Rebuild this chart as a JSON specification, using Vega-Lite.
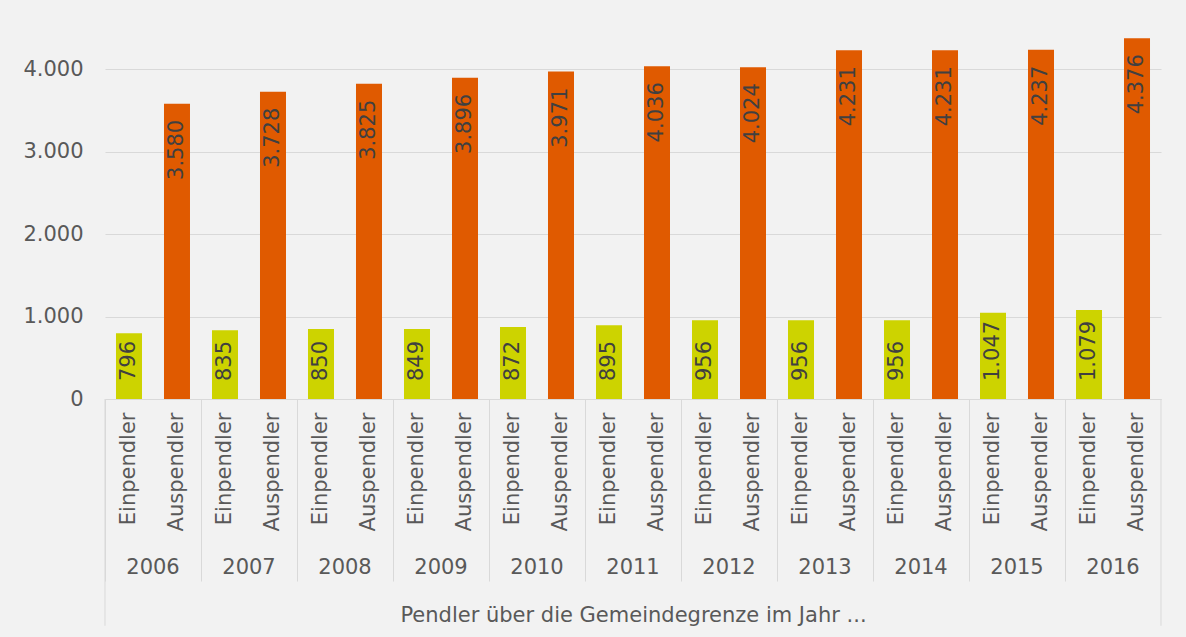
{
  "$schema": "https://vega.github.io/schema/vega-lite/v6.json",
  "width": 1056,
  "height": 371,
  "autosize": {"type": "none"},
  "padding": {"left": 105, "top": 28, "right": 25, "bottom": 238},
  "background": "#f2f2f2",
  "config": {
    "locale": {"number": {"decimal": ",", "thousands": ".", "grouping": [3], "currency": ["", " €"]}},
    "view": {"stroke": null},
    "font": "DejaVu Sans",
    "axis": {"labelFont": "DejaVu Sans", "titleFont": "DejaVu Sans"},
    "text": {"font": "DejaVu Sans"}
  },
  "datasets": {
    "pendler": [
      {"year": "2006", "type": "Einpendler", "key": "2006|Einpendler", "value": 796},
      {"year": "2006", "type": "Auspendler", "key": "2006|Auspendler", "value": 3580},
      {"year": "2007", "type": "Einpendler", "key": "2007|Einpendler", "value": 835},
      {"year": "2007", "type": "Auspendler", "key": "2007|Auspendler", "value": 3728},
      {"year": "2008", "type": "Einpendler", "key": "2008|Einpendler", "value": 850},
      {"year": "2008", "type": "Auspendler", "key": "2008|Auspendler", "value": 3825},
      {"year": "2009", "type": "Einpendler", "key": "2009|Einpendler", "value": 849},
      {"year": "2009", "type": "Auspendler", "key": "2009|Auspendler", "value": 3896},
      {"year": "2010", "type": "Einpendler", "key": "2010|Einpendler", "value": 872},
      {"year": "2010", "type": "Auspendler", "key": "2010|Auspendler", "value": 3971},
      {"year": "2011", "type": "Einpendler", "key": "2011|Einpendler", "value": 895},
      {"year": "2011", "type": "Auspendler", "key": "2011|Auspendler", "value": 4036},
      {"year": "2012", "type": "Einpendler", "key": "2012|Einpendler", "value": 956},
      {"year": "2012", "type": "Auspendler", "key": "2012|Auspendler", "value": 4024},
      {"year": "2013", "type": "Einpendler", "key": "2013|Einpendler", "value": 956},
      {"year": "2013", "type": "Auspendler", "key": "2013|Auspendler", "value": 4231},
      {"year": "2014", "type": "Einpendler", "key": "2014|Einpendler", "value": 956},
      {"year": "2014", "type": "Auspendler", "key": "2014|Auspendler", "value": 4231},
      {"year": "2015", "type": "Einpendler", "key": "2015|Einpendler", "value": 1047},
      {"year": "2015", "type": "Auspendler", "key": "2015|Auspendler", "value": 4237},
      {"year": "2016", "type": "Einpendler", "key": "2016|Einpendler", "value": 1079},
      {"year": "2016", "type": "Auspendler", "key": "2016|Auspendler", "value": 4376}
    ],
    "edges": [
      {"year": "2006", "from": 0, "to": -2750},
      {"year": "2016", "from": 0, "to": -2750}
    ]
  },
  "layer": [
    {
      "data": {"name": "pendler"},
      "layer": [
        {
          "mark": {"type": "bar"},
          "encoding": {
            "x": {
              "field": "key", "type": "nominal", "sort": null,
              "scale": {"type": "band", "paddingInner": 0.4583, "paddingOuter": 0.229},
              "axis": {
                "title": null,
                "labelExpr": "split(datum.value, '|')[1]",
                "labelAngle": -90,
                "labelAlign": "right",
                "labelBaseline": "middle",
                "labelPadding": 13,
                "labelFontSize": 21,
                "labelColor": "#595959",
                "labelBound": false,
                "labelOverlap": false,
                "ticks": false,
                "domain": true,
                "domainColor": "#d9d9d9",
                "domainWidth": 1
              }
            },
            "y": {
              "field": "value", "type": "quantitative",
              "scale": {"domain": [0, 4500], "nice": false},
              "axis": {
                "title": null,
                "values": [0, 1000, 2000, 3000, 4000],
                "format": ",d",
                "domain": false,
                "ticks": false,
                "labelPadding": 22,
                "labelFontSize": 21,
                "labelColor": "#595959",
                "gridColor": "#d9d9d9",
                "gridWidth": 1
              }
            },
            "color": {
              "field": "type", "type": "nominal",
              "scale": {"domain": ["Einpendler", "Auspendler"], "range": ["#cdd300", "#e05a00"]},
              "legend": null
            }
          }
        },
        {
          "transform": [{"filter": "datum.type === 'Einpendler'"}],
          "mark": {"type": "text", "angle": 270, "align": "left", "baseline": "middle", "dx": 18, "fontSize": 21, "color": "#404040"},
          "encoding": {
            "x": {"field": "key", "type": "nominal", "sort": null},
            "y": {"datum": 0, "type": "quantitative", "scale": {"domain": [0, 4500], "nice": false}},
            "text": {"field": "value", "type": "quantitative", "format": ",d"}
          }
        },
        {
          "transform": [{"filter": "datum.type === 'Auspendler'"}],
          "mark": {"type": "text", "angle": 270, "align": "right", "baseline": "middle", "dx": -16, "fontSize": 21, "color": "#404040"},
          "encoding": {
            "x": {"field": "key", "type": "nominal", "sort": null},
            "y": {"field": "value", "type": "quantitative", "scale": {"domain": [0, 4500], "nice": false}},
            "text": {"field": "value", "type": "quantitative", "format": ",d"}
          }
        }
      ]
    },
    {
      "data": {"name": "edges"},
      "layer": [
        {
          "transform": [{"filter": "datum.year === '2006'"}],
          "mark": {"type": "rule", "color": "#d9d9d9", "strokeWidth": 1},
          "encoding": {
            "x": {
              "field": "year", "type": "ordinal", "bandPosition": 0,
              "scale": {"type": "band", "domain": ["2006", "2007", "2008", "2009", "2010", "2011", "2012", "2013", "2014", "2015", "2016"], "paddingInner": 0, "paddingOuter": 0},
              "axis": {
                "orient": "bottom",
                "domain": false,
                "ticks": true,
                "bandPosition": 0,
                "tickSize": 182,
                "tickColor": "#d9d9d9",
                "tickWidth": 1,
                "labelAngle": 0,
                "labelAlign": "center",
                "labelBaseline": "top",
                "labelPadding": -25,
                "labelFontSize": 21,
                "labelColor": "#595959",
                "title": "Pendler über die Gemeindegrenze im Jahr ...",
                "titleFontSize": 21,
                "titleFontWeight": "normal",
                "titleColor": "#595959",
                "titleY": 216,
                "titleBaseline": "middle"
              }
            },
            "y": {"field": "from", "type": "quantitative", "scale": {"domain": [0, 4500], "nice": false}},
            "y2": {"field": "to"}
          }
        },
        {
          "transform": [{"filter": "datum.year === '2016'"}],
          "mark": {"type": "rule", "color": "#d9d9d9", "strokeWidth": 1},
          "encoding": {
            "x": {"field": "year", "type": "ordinal", "bandPosition": 1},
            "y": {"field": "from", "type": "quantitative", "scale": {"domain": [0, 4500], "nice": false}},
            "y2": {"field": "to"}
          }
        }
      ]
    }
  ],
  "resolve": {"scale": {"x": "independent"}, "axis": {"x": "independent"}}
}
